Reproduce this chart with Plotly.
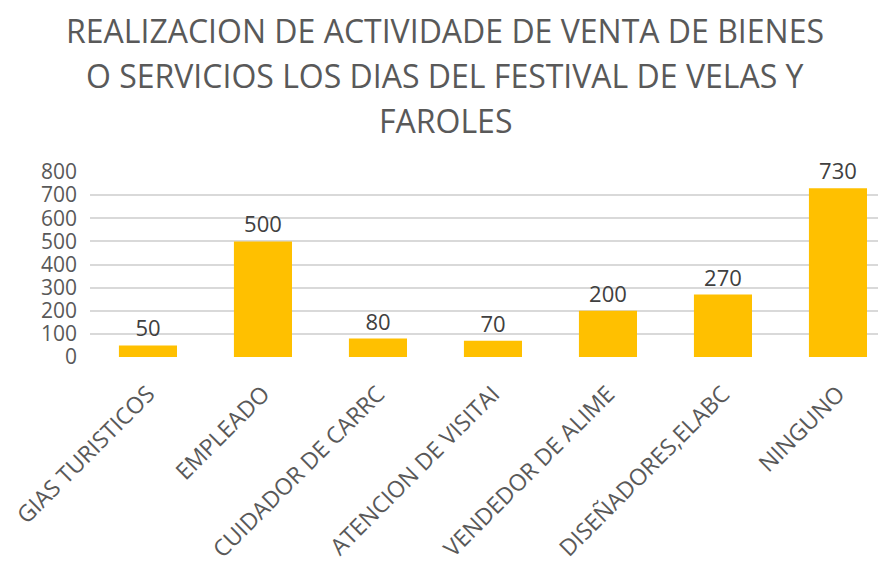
import plotly.graph_objects as go

categories = ["GIAS TURISTICOS", "EMPLEADO", "CUIDADOR DE CARRC", "ATENCION DE VISITAI",
              "VENDEDOR DE ALIME", "DISEÑADORES,ELABC", "NINGUNO"]
values = [50, 500, 80, 70, 200, 270, 730]
title_lines = ["REALIZACION DE ACTIVIDADE DE VENTA DE BIENES",
               "O SERVICIOS LOS DIAS DEL FESTIVAL DE VELAS Y",
               "FAROLES"]
y_ticks = [0, 100, 200, 300, 400, 500, 600, 700, 800]

FONT = "Open Sans"
fig = go.Figure(go.Bar(
    x=categories, y=values,
    marker=dict(color="#FFC000", line=dict(width=0)),
    text=[str(v) for v in values], textposition="outside",
    textfont=dict(family=FONT, size=22, color="#404040"),
    cliponaxis=False,
))

# page body has an 8px margin; positions below are in figure pixels
L, R, T, B = 82, 9, 164, 216
W = 886 - L - R
H = 565 - T - B
title_y = [22, 67, 112]
for line, yp in zip(title_lines, title_y):
    fig.add_annotation(text=line, xref="paper", yref="paper",
                       x=(437 - L) / W, y=(565 - B - yp) / H,
                       xanchor="center", yanchor="middle", showarrow=False,
                       font=dict(family=FONT, size=32, color="#595959"))

fig.update_layout(
    width=886, height=565,
    margin=dict(l=L, r=R, t=T, b=B, autoexpand=False),
    paper_bgcolor="white", plot_bgcolor="white",
    bargap=0.495, showlegend=False,
    font=dict(family=FONT, color="#595959"),
    xaxis=dict(tickangle=-45, tickfont=dict(family=FONT, size=23, color="#595959"),
               showline=False, ticks="", range=[-0.504, 6.409],
               ticklabelstandoff=18, automargin=False),
    yaxis=dict(range=[0, 800], tickvals=y_ticks, showgrid=True, gridcolor="#D9D9D9",
               gridwidth=1.5, zeroline=False, ticks="", ticklen=0,
               ticklabelstandoff=12, automargin=False,
               tickfont=dict(family=FONT, size=21, color="#595959")),
)
fig.write_html("out.html")
